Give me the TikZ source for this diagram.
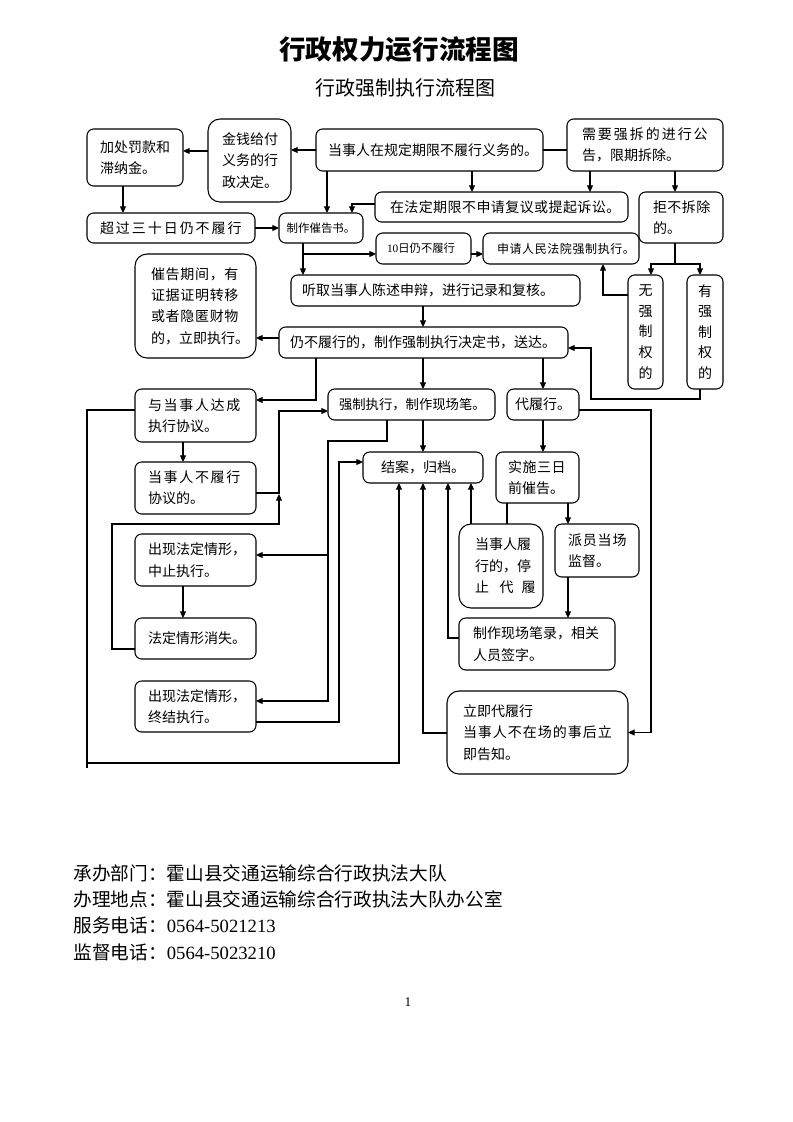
\documentclass[tikz,border=0pt]{standalone}
\usepackage{fontspec}
\setmainfont{Liberation Serif}
\newfontfamily\cjk{Noto Sans CJK SC}
\usetikzlibrary{arrows.meta}
\newcommand\ls[2]{{\addfontfeature{LetterSpace=#1}#2}}
\def\pdv{12}
\tikzset{
  padx/.code={\def\pdv{#1}},
  bx/.style={draw, line width=0.8pt, rounded corners=5pt, inner sep=0pt, outer sep=0pt,
    align=left, font=\cjk\fontsize{10.5}{16}\selectfont},
  bigr/.style={rounded corners=9pt},
  arr/.style={-{Triangle[width=4.5pt,length=5pt]}},
  every path/.style={line width=0.8pt}
}
\newcommand\mkbox[7][]{\node[bx,anchor=north west,minimum width={(#4-#2)*0.75pt},minimum height={(#5-#3)*0.75pt},text width={(#4-#2-2*\pdv)*0.75pt},#1] (#6) at (#2,#3) {#7};}
\begin{document}
\begin{tikzpicture}[x=0.75pt,y=-0.75pt]
\useasboundingbox[fill=white] (0,0) rectangle (793,1122);
% titles
\node[font=\cjk\bfseries\fontsize{20}{24}\selectfont] (title) at (399,50) {行政权力运行流程图};
\node[font=\cjk\fontsize{15}{18}\selectfont] (sub) at (405,88) {行政强制执行流程图};
% boxes
\mkbox{316}{129}{543}{171}{A}{当事人在规定期限不履行义务的。}
\mkbox[bigr,padx=14]{208}{119}{291}{202}{B}{金钱给付\\义务的行\\政决定。}
\mkbox[padx=13]{87}{129}{183}{186}{C}{加处罚款和\\滞纳金。}
\mkbox[padx=15]{567}{119}{723}{171}{D}{\ls{14}{需要强拆的进行公}\\告，限期拆除。}
\mkbox[padx=13]{87}{213}{255}{243}{E}{\ls{14}{超过三十日仍不履行}}
\mkbox[align=center,padx=6,font=\cjk\fontsize{8.6}{10}\selectfont]{279}{213}{363}{243}{F}{制作催告书。}
\mkbox[padx=15]{375}{192}{628}{222}{G}{\ls{3}{在法定期限不申请复议或提起诉讼。}}
\mkbox[padx=14]{639}{192}{723}{243}{H}{\ls{3}{拒不拆除}\\的。}
\mkbox[padx=11,font=\cjk\fontsize{8.5}{10}\selectfont]{376}{233}{471}{264}{I}{{\rmfamily 10}日仍不履行}
\mkbox[padx=14,font=\cjk\fontsize{9}{10}\selectfont]{483}{233}{639}{264}{J}{\ls{5}{申请人民法院强制执行。}}
\mkbox[align=center,padx=2,font=\cjk\fontsize{10.5}{15.4}\selectfont]{628}{275}{663}{389}{K}{无\\强\\制\\权\\的}
\mkbox[align=center,padx=2,font=\cjk\fontsize{10.5}{15.4}\selectfont]{687}{275}{723}{389}{L}{有\\强\\制\\权\\的}
\mkbox[padx=11]{291}{275}{580}{306}{M}{听取当事人陈述申辩，进行记录和复核。}
\mkbox[bigr,padx=16]{135}{254}{256}{358}{N}{\ls{5}{催告期间，有}\\\ls{5}{证据证明转移}\\\ls{5}{或者隐匿财物}\\的，立即执行。}
\mkbox[padx=11]{279}{327}{568}{358}{O}{仍不履行的，制作强制执行决定书，送达。}
\mkbox[padx=13]{135}{389}{256}{442}{P}{\ls{12}{与当事人达成}\\执行协议。}
\mkbox[padx=13]{135}{462}{256}{514}{Q}{\ls{12}{当事人不履行}\\协议的。}
\mkbox[padx=13]{135}{534}{256}{586}{R}{出现法定情形，\\中止执行。}
\mkbox[padx=13]{135}{618}{256}{659}{S}{法定情形消失。}
\mkbox[padx=13]{135}{681}{256}{732}{T}{出现法定情形，\\终结执行。}
\mkbox[padx=11,font=\cjk\fontsize{10}{16}\selectfont]{328}{389}{495}{420}{U}{强制执行，制作现场笔。}
\mkbox[align=center,padx=4]{507}{389}{579}{420}{V}{代履行。}
\mkbox[align=center,padx=10]{363}{452}{483}{483}{W}{结案，归档。}
\mkbox[padx=12]{496}{452}{579}{503}{X}{\ls{4}{实施三日}\\前催告。}
\mkbox[bigr,padx=16]{459}{524}{543}{608}{Y}{当事人履\\行的，停\\\mbox{止\hspace{8pt}代\hspace{6pt}履}}
\mkbox[padx=13]{555}{524}{639}{577}{Z}{\ls{6}{派员当场}\\监督。}
\mkbox[padx=14]{459}{618}{615}{670}{AA}{制作现场笔录，相关\\人员签字。}
\mkbox[bigr,padx=16]{447}{691}{628}{774}{AB}{立即代履行\\\ls{7}{当事人不在场的事后立}\\即告知。}
% connectors
\draw[arr] (A.west) -- (A.west -| B.east);
\draw[arr] (B.west |- 0,151) -- (C.east |- 0,151);
\draw[arr] (123,0 |- C.south) -- (123,0 |- E.north);
\draw[arr] (E.east) -- (F.west);
\draw[arr] (327,0 |- A.south) -- (327,0 |- F.north);
\draw[arr] (G.west |- 0,204) -| (352,0 |- F.north);
\draw[arr] (472,0 |- A.south) -- (472,0 |- G.north);
\draw[arr] (590,0 |- D.south) -- (590,0 |- G.north);
\draw[arr] (675,0 |- D.south) -- (675,0 |- H.north);
\draw (A.east) -- (A.east -| D.west);
\draw (675,0 |- H.south) -- (675,264) coordinate (hj);
\draw[arr] (hj) -| (651,0 |- K.north);
\draw[arr] (hj) -| (700,0 |- L.north);
\draw[arr] (303,0 |- F.south) -- (303,0 |- M.north);
\draw[arr] (303,254) -- (I.west |- 0,254);
\draw[arr] (I.east |- 0,254) -- (J.west |- 0,254);
\draw[arr] (K.west |- 0,295) -| (603,0 |- J.south);
\draw[arr] (700,0 |- L.south) |- (591,399) |- (O.east |- 0,348);
\draw[arr] (423,0 |- M.south) -- (423,0 |- O.north);
\draw[arr] (O.west |- 0,338) -- (N.east |- 0,338);
\draw[arr] (423,0 |- O.south) -- (423,0 |- U.north);
\draw[arr] (543,0 |- O.south) -- (543,0 |- V.north);
\draw[arr] (316,0 |- O.south) |- (P.east |- 0,400);
\draw (P.west |- 0,410) -| (87,768);
\draw[arr] (87,763) -| (399,0 |- W.south);
\draw[arr] (183,0 |- P.south) -- (183,0 |- Q.north);
\draw[arr] (Q.east |- 0,493) -- (279,493) |- (U.west |- 0,411);
\draw[arr] (S.west |- 0,649) -| (112,524) -| (279,494);
\draw[arr] (183,0 |- R.south) -- (183,0 |- S.north);
\draw[arr] (387,0 |- U.south) |- (328,441) |- (T.east |- 0,701);
\draw[arr] (328,555) -- (R.east |- 0,555);
\draw[arr] (423,0 |- U.south) -- (423,0 |- W.north);
\draw[arr] (T.east |- 0,722) -| (339,462) -- (W.west |- 0,462);
\draw[arr] (AB.west |- 0,733) -| (423,0 |- W.south);
\draw[arr] (AA.west |- 0,638) -| (448,0 |- W.south);
\draw[arr] (471,0 |- Y.north) -- (471,0 |- W.south);
\draw (507,0 |- X.south) -- (507,0 |- Y.north);
\draw[arr] (568,0 |- X.south) -- (568,0 |- Z.north);
\draw[arr] (568,0 |- Z.south) -- (568,0 |- AA.north);
\draw[arr] (543,0 |- V.south) -- (543,0 |- X.north);
\draw[arr] (V.east |- 0,410) -| (651,0 |- AB.east) -- (AB.east);
% footer
\tikzset{ft/.style={anchor=west, inner sep=0pt, font=\cjk\fontsize{14}{18}\selectfont}}
\node[ft] (f1) at (73,873) {承办部门：霍山县交通运输综合行政执法大队};
\node[ft] (f2) at (73,899) {办理地点：霍山县交通运输综合行政执法大队办公室};
\node[ft] (f3) at (73,925) {服务电话：{\rmfamily 0564-5021213}};
\node[ft] (f4) at (73,952) {监督电话：{\rmfamily 0564-5023210}};
\node[font=\rmfamily\fontsize{10}{12}\selectfont] (pg) at (408,1002) {1};
\end{tikzpicture}
\end{document}
